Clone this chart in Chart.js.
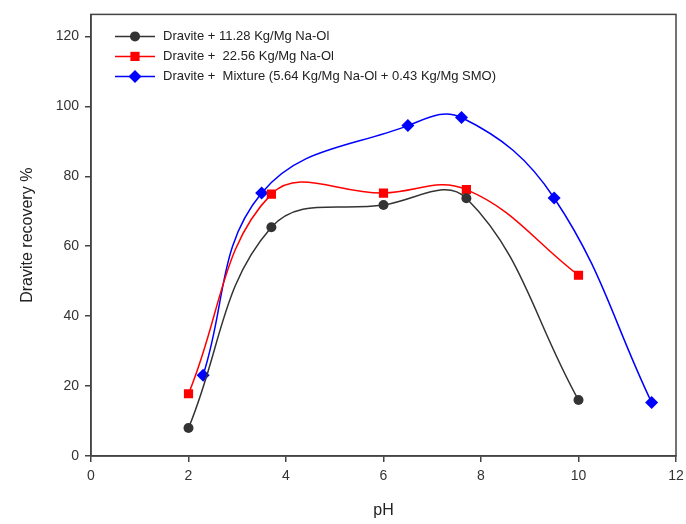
<!DOCTYPE html>
<html>
<head>
<meta charset="utf-8">
<script src="https://cdn.jsdelivr.net/npm/chart.js@4/dist/chart.umd.min.js"></script>
<style>
    html, body { margin: 0; padding: 0; background: #fff; }
    #wrap { width: 686px; height: 524px; }
</style>
</head>
<body>
<div id="wrap"><canvas id="recoveryChart"></canvas></div>
<script>
// series
const phLow = [2, 3.7, 6, 7.7, 10];
const recoveryLow = [8, 65.4, 71.8, 73.7, 16];
const phHigh = [2, 3.7, 6, 7.7, 10];
const recoveryHigh = [17.8, 74.9, 75.2, 76.2, 51.7];
const phMix = [2.3, 3.5, 6.5, 7.6, 9.5, 11.5];
const recoveryMix = [23.1, 75.2, 94.5, 96.8, 73.8, 15.3];

const seriesLabels = [
    'Dravite + 11.28 Kg/Mg Na-Ol',
    'Dravite +  22.56 Kg/Mg Na-Ol',
    'Dravite +  Mixture (5.64 Kg/Mg Na-Ol + 0.43 Kg/Mg SMO)'
];
const xTicks = [0, 2, 4, 6, 8, 10, 12];
const yTicks = [0, 20, 40, 60, 80, 100, 120];

const toPoints = (xs, ys) => xs.map((x, i) => ({ x, y: ys[i] }));

const FONT = "'Liberation Sans', Arial, sans-serif";

/* ---------- frame round the plot + legend inside it ---------- */
const framePlugin = {
    id: 'frame',
    afterDatasetsDraw(chart) {
        const { ctx, chartArea: a } = chart;
        ctx.save();
        ctx.strokeStyle = '#444';
        ctx.lineWidth = 1.5;
        ctx.strokeRect(a.left, a.top, a.right - a.left, a.bottom - a.top);

        // legend rows
        ctx.font = '13px ' + FONT;
        ctx.textBaseline = 'middle';
        chart.data.datasets.forEach((ds, i) => {
            const y = a.top + 22 + i * 20;
            const x0 = a.left + 24;
            ctx.strokeStyle = ds.borderColor;
            ctx.lineWidth = 1.5;
            ctx.beginPath();
            ctx.moveTo(x0, y);
            ctx.lineTo(x0 + 40, y);
            ctx.stroke();
            ctx.fillStyle = ds.pointBackgroundColor;
            Chart.helpers.drawPoint(ctx, {
                pointStyle: ds.pointStyle,
                radius: ds.pointRadius,
                rotation: 0,
                borderWidth: 0
            }, x0 + 20, y);
            ctx.fillStyle = '#222';
            ctx.fillText(ds.label, x0 + 48, y);
        });
        ctx.restore();
    }
};

const makeSet = (label, data, color, style, radius) => ({
    label,
    data,
    showLine: true,
    borderColor: color,
    backgroundColor: color,
    pointBackgroundColor: color,
    pointBorderColor: color,
    pointBorderWidth: 0,
    pointStyle: style,
    pointRadius: radius,
    borderWidth: 1.5,
    tension: 0.4,
    fill: false
});

new Chart(document.getElementById('recoveryChart'), {
    type: 'scatter',
    data: {
        datasets: [
            makeSet(seriesLabels[0], toPoints(phLow, recoveryLow), '#333333', 'circle', 5),
            makeSet(seriesLabels[1], toPoints(phHigh, recoveryHigh), '#ff0000', 'rect', 6.5),
            makeSet(seriesLabels[2], toPoints(phMix, recoveryMix), '#0000ff', 'rectRot', 6.5)
        ]
    },
    options: {
        responsive: true,
        maintainAspectRatio: false,
        animation: false,
        layout: { padding: { top: 12, right: 10, left: 0, bottom: 0 } },
        plugins: {
            legend: { display: false },
            tooltip: { enabled: false }
        },
        scales: {
            x: {
                type: 'linear',
                min: 0,
                max: 12,
                afterBuildTicks: (s) => { s.ticks = xTicks.map(v => ({ value: v })); },
                afterFit: (s) => { s.height = 68; s.paddingRight = 0; s.paddingLeft = 0; },
                grid: { drawOnChartArea: false, tickLength: 6, color: '#444', lineWidth: 1.5 },
                border: { color: '#444', width: 1.5 },
                ticks: { color: '#333', font: { family: FONT, size: 14 }, padding: 6 },
                title: {
                    display: true,
                    text: 'pH',
                    color: '#222',
                    font: { family: FONT, size: 16 },
                    padding: { top: 14 }
                }
            },
            y: {
                type: 'linear',
                min: 0,
                max: 126.3,
                afterBuildTicks: (s) => { s.ticks = yTicks.map(v => ({ value: v })); },
                afterFit: (s) => { s.width = 91; },
                grid: { drawOnChartArea: false, tickLength: 6, color: '#444', lineWidth: 1.5 },
                border: { color: '#444', width: 1.5 },
                ticks: { color: '#333', font: { family: FONT, size: 14 }, padding: 6 },
                title: {
                    display: true,
                    text: 'Dravite recovery %',
                    color: '#222',
                    font: { family: FONT, size: 16 },
                    padding: { top: 18, bottom: 10 }
                }
            }
        }
    },
    plugins: [framePlugin]
});
</script>
</body>
</html>
